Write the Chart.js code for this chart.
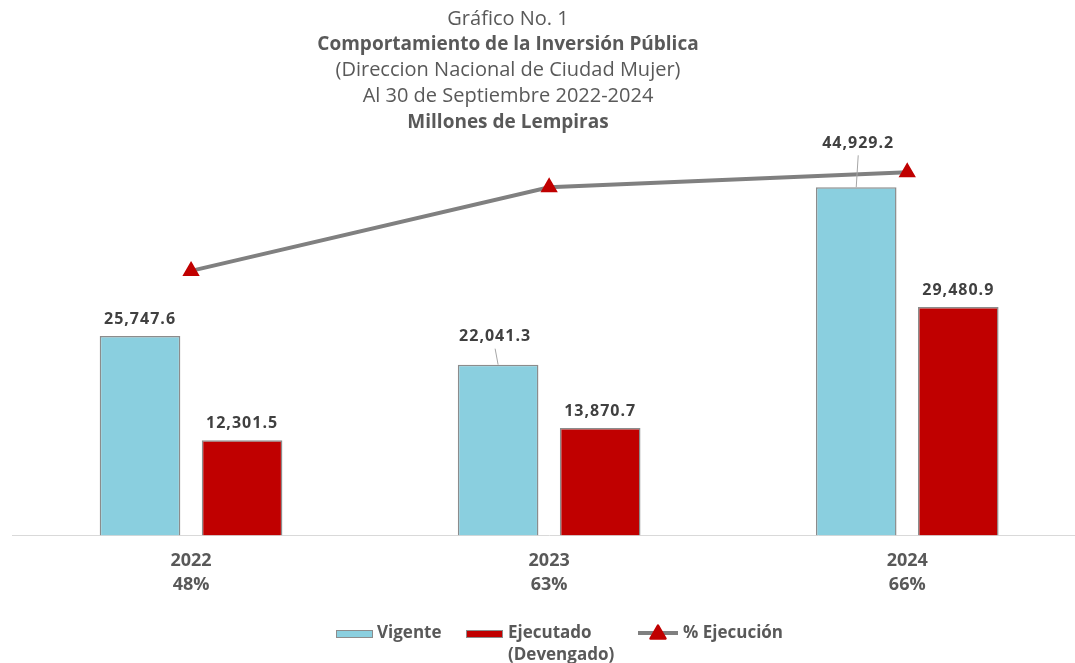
<!DOCTYPE html>
<html><head><meta charset="utf-8">
<script src="https://cdn.jsdelivr.net/npm/chart.js@4.4.1/dist/chart.umd.min.js"></script>
<style>
html,body{margin:0;padding:0;background:#fff;overflow:hidden;}
#wrap{width:1100px;height:663px;position:relative;}
canvas{display:block;}
</style></head><body>
<div id="wrap"><canvas id="c" width="1100" height="663" style="width:1100px;height:663px"></canvas></div>
<script>
// ---- data ----
const categories = ['2022', '2023', '2024'];
const pctLabels = ['48%', '63%', '66%'];
const vigente = [25747.6, 22041.3, 44929.2];
const ejecutado = [12301.5, 13870.7, 29480.9];
const pctEjecucion = [47.8, 62.9, 65.6];
const seriesNames = ['Vigente', 'Ejecutado (Devengado)', '% Ejecución'];
const titleLines = [
  { text: 'Gráfico No. 1', bold: false },
  { text: 'Comportamiento de la Inversión Pública', bold: true },
  { text: '(Direccion Nacional de Ciudad Mujer)', bold: false },
  { text: 'Al 30 de Septiembre 2022-2024', bold: false },
  { text: 'Millones de Lempiras', bold: true }
];

// ---- styles ----
const C_VIG = '#8ACFDF', C_EJE = '#C00000', C_LINE = '#808080', C_BORDER = '#8C8C8C';
const C_TEXT = '#595959', C_LABEL = '#404040';
const FONT = "'Open Sans', 'DejaVu Sans', sans-serif";

const fmt = v => v.toLocaleString('en-US', { minimumFractionDigits: 1, maximumFractionDigits: 1 });

const titlePlugin = {
  id: 'titleLinesPlugin',
  afterDraw(chart) {
    const ctx = chart.ctx;
    ctx.save();
    ctx.fillStyle = C_TEXT;
    ctx.textAlign = 'center';
    ctx.textBaseline = 'alphabetic';
    const baselines = [24.5, 50, 76, 101.7, 127.5];
    titleLines.forEach((l, i) => {
      ctx.font = (l.bold ? 'bold 19px ' : '20px ') + FONT;
      ctx.fillText(l.text, 508, baselines[i]);
    });
    ctx.restore();
  }
};

const labelAdjust = { '0-1': { dx: -3, dy: -28, leader: true }, '0-2': { dx: 2, dy: -44, leader: true } };

const barLabelPlugin = {
  id: 'barLabels',
  afterDatasetsDraw(chart) {
    const ctx = chart.ctx;
    ctx.save();
    [0, 1].forEach(di => {
      const meta = chart.getDatasetMeta(di);
      meta.data.forEach((el, i) => {
        const v = chart.data.datasets[di].data[i];
        const adj = labelAdjust[di + '-' + i] || { dx: 0, dy: -17 };
        const x = el.x + adj.dx, y = el.y + adj.dy;
        if (adj.leader) {
          ctx.strokeStyle = '#A6A6A6';
          ctx.lineWidth = 1;
          ctx.beginPath();
          ctx.moveTo(x, y + 12);
          ctx.lineTo(el.x, el.y);
          ctx.stroke();
        }
        ctx.font = 'bold 16px ' + FONT;
        try { ctx.letterSpacing = '1px'; } catch (e) {}
        ctx.fillStyle = C_LABEL;
        ctx.textAlign = 'center';
        ctx.textBaseline = 'middle';
        ctx.fillText(fmt(v), x, y);
      });
    });
    ctx.restore();
  }
};

const legendPlugin = {
  id: 'customLegend',
  afterDraw(chart) {
    const ctx = chart.ctx;
    ctx.save();
    const base = 637.5;
    ctx.font = 'bold 17px ' + FONT;
    ctx.textAlign = 'left';
    ctx.textBaseline = 'alphabetic';
    ctx.fillStyle = C_TEXT;
    // Vigente
    ctx.fillStyle = C_VIG; ctx.strokeStyle = C_BORDER; ctx.lineWidth = 1;
    ctx.fillRect(336, 630.5, 37, 7); ctx.strokeRect(336.5, 630.5, 36, 7);
    ctx.fillStyle = C_TEXT; ctx.fillText(seriesNames[0], 377, base);
    // Ejecutado
    ctx.fillStyle = C_EJE;
    ctx.fillRect(466, 630.5, 37, 7); ctx.strokeRect(466.5, 630.5, 36, 7);
    ctx.fillStyle = C_TEXT;
    ctx.fillText('Ejecutado', 508, base);
    ctx.fillText('(Devengado)', 508, 660);
    // % Ejecucion
    ctx.strokeStyle = C_LINE; ctx.lineWidth = 4;
    ctx.beginPath(); ctx.moveTo(638, 633); ctx.lineTo(678, 633); ctx.stroke();
    ctx.fillStyle = C_EJE; ctx.strokeStyle = C_EJE; ctx.lineWidth = 2.5; ctx.lineJoin = 'round';
    ctx.beginPath(); ctx.moveTo(658, 625.5); ctx.lineTo(665.5, 638.5); ctx.lineTo(650.5, 638.5); ctx.closePath();
    ctx.fill(); ctx.stroke();
    ctx.fillStyle = C_TEXT;
    ctx.fillText(seriesNames[2], 683, base);
    ctx.restore();
  }
};

new Chart(document.getElementById('c'), {
  type: 'bar',
  data: {
    labels: categories.map((c, i) => [c, pctLabels[i]]),
    datasets: [
      { label: seriesNames[0], data: vigente, backgroundColor: C_VIG, borderColor: C_BORDER, borderWidth: 1.5,
        categoryPercentage: 0.57, barPercentage: 0.79, yAxisID: 'y', order: 1 },
      { label: seriesNames[1], data: ejecutado, backgroundColor: C_EJE, borderColor: C_BORDER, borderWidth: 1.5,
        categoryPercentage: 0.57, barPercentage: 0.79, yAxisID: 'y', order: 1 },
      { type: 'line', label: seriesNames[2], data: pctEjecucion, yAxisID: 'y1', order: 0,
        borderColor: C_LINE, borderWidth: 4, pointStyle: 'triangle', pointRadius: 7.5,
        pointBackgroundColor: C_EJE, pointBorderColor: C_EJE, pointBorderWidth: 2.5, tension: 0 }
    ]
  },
  options: {
    responsive: false,
    animation: false,
    devicePixelRatio: 1,
    layout: { padding: { left: 12, top: 148, right: 13.7, bottom: 0 } },
    plugins: { legend: { display: false }, title: { display: false }, tooltip: { enabled: false } },
    scales: {
      x: {
        grid: { display: false, drawTicks: false },
        border: { display: true, color: '#D9D9D9', width: 1 },
        ticks: { color: C_TEXT, padding: 14, font: { family: FONT, size: 18, weight: 'bold', lineHeight: 1.31 } },
        afterFit(scale) { scale.height = 127.5; }
      },
      y: { display: false, min: 0, max: 50000 },
      y1: { display: false, min: 0, max: 70, position: 'right' }
    }
  },
  plugins: [titlePlugin, barLabelPlugin, legendPlugin]
});
</script>
</body></html>
